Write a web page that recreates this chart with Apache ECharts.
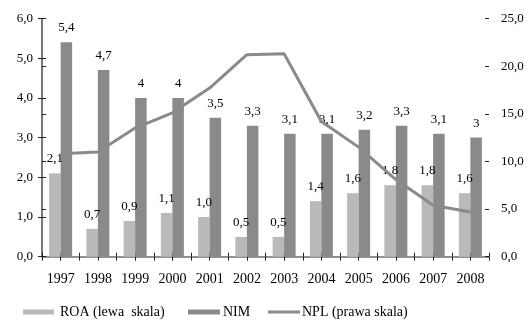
<!DOCTYPE html>
<html>
<head>
<meta charset="utf-8">
<script src="https://cdn.jsdelivr.net/npm/echarts@6/dist/echarts.min.js"></script>
<style>
  html, body { margin: 0; padding: 0; background: #fff; }
  #chart { width: 529px; height: 322px; }
</style>
</head>
<body>
<div id="chart"></div>
<script>
// Years on the category axis
const years = ['1997', '1998', '1999', '2000', '2001', '2002', '2003', '2004', '2005', '2006', '2007', '2008'];
// ROA, % (left scale)
const roa = [2.1, 0.7, 0.9, 1.1, 1.0, 0.5, 0.5, 1.4, 1.6, 1.8, 1.8, 1.6];
// NIM, % (left scale)
const nim = [5.4, 4.7, 4, 4, 3.5, 3.3, 3.1, 3.1, 3.2, 3.3, 3.1, 3];
// NPL, % (right scale)
const npl = [10.8, 11.0, 13.5, 15.1, 17.7, 21.2, 21.3, 14.2, 11.5, 8.1, 5.4, 4.7];
// Series names as shown in the key
const names = ['ROA (lewa  skala)', 'NIM', 'NPL (prawa skala)'];

const FONT = '"Liberation Serif", "Times New Roman", serif';
const AXIS_COLOR = '#6e6e6e';
const TICK_COLOR = '#222';
const ROA_COLOR = '#b9b9b9';
const NIM_COLOR = '#8a8a8a';
const NPL_COLOR = '#8a8a8a';
const comma1 = v => v.toFixed(1).replace('.', ',');

const chart = echarts.init(document.getElementById('chart'), null, { renderer: 'canvas' });

// Extra tick-only axes so that ticks cross the axis lines
function tickX(inside) {
  return {
    type: 'value', min: 0, max: years.length * 2, interval: 1, position: 'bottom',
    axisLine: { show: false }, axisLabel: { show: false }, splitLine: { show: false },
    axisTick: { show: true, inside: inside, length: 4, lineStyle: { color: TICK_COLOR } }
  };
}
function tickY(pos, max, interval, inside) {
  return {
    type: 'value', min: 0, max: max, interval: interval, position: pos,
    axisLine: { show: false }, axisLabel: { show: false }, splitLine: { show: false },
    axisTick: { show: true, inside: inside, length: 4, lineStyle: { color: TICK_COLOR } }
  };
}

// Key along the bottom edge
const KEY_Y = 312;
function keyText(x, text) {
  return {
    type: 'text', x: x, y: KEY_Y, silent: true,
    style: { text: text, fontFamily: FONT, fontSize: 14, fill: '#000', verticalAlign: 'middle', align: 'left' }
  };
}
const keyGraphics = [
  { type: 'rect', silent: true, shape: { x: 23, y: KEY_Y - 2.5, width: 31, height: 5 }, style: { fill: ROA_COLOR } },
  keyText(60, names[0]),
  { type: 'rect', silent: true, shape: { x: 188, y: KEY_Y - 2.5, width: 32, height: 5 }, style: { fill: NIM_COLOR } },
  keyText(223, names[1]),
  { type: 'line', silent: true, shape: { x1: 268, y1: KEY_Y, x2: 300, y2: KEY_Y }, style: { stroke: NPL_COLOR, lineWidth: 3 } },
  keyText(302, names[2])
];

chart.setOption({
  backgroundColor: '#fff',
  animation: false,
  textStyle: { fontFamily: FONT },
  grid: { left: 42, right: 40, top: 18.5, bottom: 65.3 },
  graphic: keyGraphics,
  xAxis: [
    {
      type: 'category', data: years, boundaryGap: true,
      axisLine: { show: true, lineStyle: { color: AXIS_COLOR, width: 1.5 } },
      axisTick: { show: false },
      axisLabel: { color: '#000', fontSize: 14, fontFamily: FONT, margin: 16 }
    },
    tickX(false),
    tickX(true)
  ],
  yAxis: [
    {
      type: 'value', min: 0, max: 6, interval: 1, position: 'left',
      axisLine: { show: true, lineStyle: { color: AXIS_COLOR, width: 1.5 } },
      axisTick: { show: true, length: 4, lineStyle: { color: TICK_COLOR } },
      splitLine: { show: false },
      axisLabel: { color: '#000', fontSize: 13, fontFamily: FONT, margin: 9, formatter: comma1 }
    },
    {
      type: 'value', min: 0, max: 25, interval: 5, position: 'right',
      axisLine: { show: true, lineStyle: { color: AXIS_COLOR, width: 1.5 } },
      axisTick: { show: true, length: 4, lineStyle: { color: TICK_COLOR } },
      splitLine: { show: false },
      axisLabel: { color: '#000', fontSize: 13, fontFamily: FONT, margin: 12, formatter: comma1 }
    },
    tickY('left', 6, 1, true),
    tickY('right', 25, 5, true)
  ],
  series: [
    {
      name: names[0], type: 'bar', data: roa,
      xAxisIndex: 0, yAxisIndex: 0,
      barWidth: 11.5, barGap: '0%',
      itemStyle: { color: ROA_COLOR },
      label: {
        show: true, position: 'top', distance: 8,
        color: '#000', fontSize: 13, fontFamily: FONT,
        formatter: p => comma1(p.value)
      },
      z: 2
    },
    {
      name: names[1], type: 'bar', data: nim,
      xAxisIndex: 0, yAxisIndex: 0,
      barWidth: 11.5, barGap: '0%',
      itemStyle: { color: NIM_COLOR },
      label: {
        show: true, position: 'top', distance: 8,
        color: '#000', fontSize: 13, fontFamily: FONT,
        formatter: p => String(p.value).replace('.', ',')
      },
      z: 2
    },
    {
      name: names[2], type: 'line', data: npl,
      xAxisIndex: 0, yAxisIndex: 1,
      symbol: 'none',
      lineStyle: { color: NPL_COLOR, width: 3 },
      itemStyle: { color: NPL_COLOR },
      z: 3
    }
  ]
});
</script>
</body>
</html>
